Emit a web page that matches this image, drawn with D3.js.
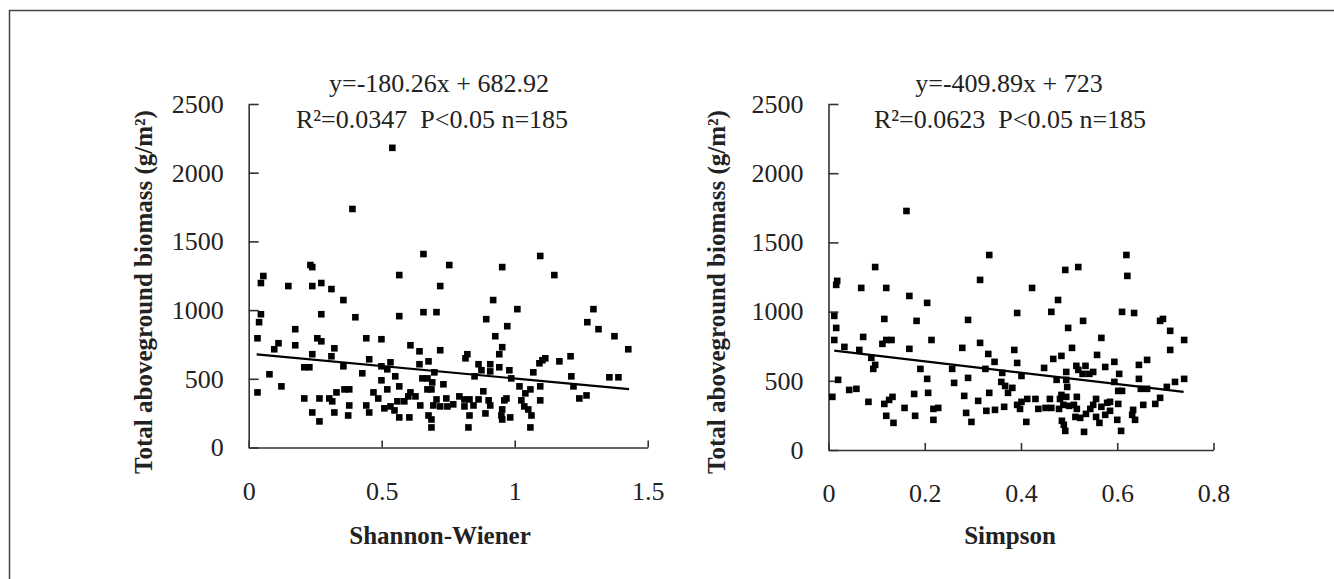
<!DOCTYPE html>
<html>
<head>
<meta charset="utf-8">
<script src="https://cdn.jsdelivr.net/npm/d3@7"></script>
<style>
body { margin: 0; background: #fff; }
</style>
</head>
<body>
<svg id="chart" width="1334" height="579"></svg>
<script>
// values
var yTicks = [0, 500, 1000, 1500, 2000, 2500];
var shannonTicks = [0, 0.5, 1, 1.5];
var simpsonTicks = [0, 0.2, 0.4, 0.6, 0.8];

var shannonX = [0.540,0.390,0.657,0.754,0.232,0.239,0.055,0.046,0.149,0.239,0.273,0.311,0.566,0.720,0.356,0.046,0.039,0.273,0.401,0.566,
    0.657,0.706,0.175,0.033,0.112,0.096,0.175,0.258,0.273,0.322,0.442,0.499,0.608,0.642,0.720,0.239,0.311,0.453,0.356,0.209,
    0.228,0.499,0.521,0.533,0.642,0.676,0.078,0.427,0.499,0.551,0.653,0.672,0.698,0.690,0.732,0.033,0.123,0.330,0.360,0.378,
    0.469,0.521,0.566,0.608,0.627,0.672,0.687,0.209,0.266,0.303,0.314,0.487,0.559,0.585,0.600,0.706,0.743,0.378,0.442,0.510,
    0.533,0.548,0.645,0.694,0.720,0.747,0.239,0.322,0.374,0.453,0.676,0.566,0.604,0.687,0.266,0.687,
    0.769,0.792,0.811,0.811,0.830,0.845,0.864,0.830,0.826,0.815,0.822,0.864,0.849,0.875,0.908,0.908,0.942,0.942,0.953,0.927,
    0.972,0.893,0.919,1.010,0.953,1.096,1.149,0.980,0.987,0.882,0.902,0.908,0.890,0.961,0.969,0.953,0.950,0.953,0.983,1.018,
    1.040,1.059,1.025,1.036,1.051,1.063,1.059,1.096,1.096,1.070,1.093,1.104,1.115,1.168,1.210,1.213,1.221,1.243,1.270,1.273,
    1.296,1.315,1.375,1.427,1.356,1.390];
var shannonY = [2181,1736,1408,1328,1328,1313,1248,1197,1175,1175,1197,1153,1255,1175,1073,970,912,970,948,956,
    985,985,861,795,759,715,744,795,773,722,795,788,744,700,708,679,664,642,591,584,
    584,591,569,620,606,627,533,540,489,518,503,503,547,474,460,401,445,401,423,423,
    401,423,445,401,372,423,423,357,357,357,336,357,336,336,372,350,357,306,306,285,
    299,270,306,306,299,299,255,255,233,255,233,219,219,204,190,146,
    314,372,350,299,350,306,350,233,146,649,679,606,518,562,606,554,584,679,730,810,
    883,934,1073,1007,1313,1394,1255,562,503,409,343,306,248,343,357,277,233,204,219,445,
    394,423,343,299,277,233,146,445,343,547,613,635,649,627,664,518,445,357,379,912,
    1007,861,810,715,511,511];

var simpsonX = [0.162,0.334,0.097,0.018,0.016,0.068,0.120,0.315,0.168,0.205,0.012,0.016,0.116,0.183,0.290,0.392,0.012,0.033,0.072,0.112,
    0.120,0.131,0.214,0.168,0.064,0.278,0.315,0.386,0.332,0.089,0.345,0.392,0.097,0.093,0.191,0.257,0.326,0.361,0.401,0.020,
    0.205,0.290,0.261,0.359,0.367,0.382,0.373,0.008,0.043,0.058,0.083,0.116,0.126,0.133,0.178,0.207,0.282,0.334,0.311,0.158,
    0.218,0.228,0.328,0.346,0.365,0.392,0.401,0.398,0.120,0.180,0.286,0.135,0.218,0.297,0.411,
    0.619,0.621,0.492,0.519,0.423,0.477,0.463,0.529,0.610,0.635,0.498,0.567,0.689,0.695,0.710,0.739,0.710,0.506,0.558,0.484,
    0.467,0.448,0.515,0.534,0.519,0.528,0.542,0.550,0.494,0.575,0.594,0.604,0.645,0.662,0.645,0.594,0.474,0.494,0.496,0.602,
    0.610,0.649,0.662,0.703,0.720,0.739,0.484,0.430,0.460,0.481,0.494,0.516,0.556,0.413,0.488,0.500,0.510,0.516,0.436,0.451,
    0.463,0.479,0.544,0.550,0.567,0.579,0.585,0.602,0.585,0.575,0.556,0.563,0.535,0.513,0.523,0.485,0.489,0.492,0.531,0.600,
    0.608,0.633,0.631,0.637,0.654,0.679,0.689];
var simpsonY = [1727,1409,1322,1222,1193,1171,1171,1229,1113,1063,969,882,947,933,940,990,795,745,817,767,
    795,795,795,731,723,738,774,723,694,666,637,629,615,586,586,586,586,557,535,507,
    514,521,485,492,463,449,413,384,434,442,348,333,362,384,405,413,391,413,355,304,
    297,304,283,290,312,326,348,297,247,247,268,196,218,203,203,
    1409,1258,1301,1322,1171,1084,998,933,998,990,882,810,933,947,861,795,723,738,687,680,
    658,593,608,608,579,550,550,564,564,600,637,550,615,651,514,492,507,507,456,427,
    427,442,442,456,492,514,398,369,369,369,384,384,369,369,326,319,326,297,297,304,
    304,297,297,326,312,341,348,333,283,254,239,196,261,239,232,211,182,138,131,218,
    138,290,254,218,326,333,377];

// fitted lines: slope, intercept and the x span drawn
var shannonFit = [-180.26, 682.92];
var shannonFitSpan = [0.03, 1.43];
var simpsonFit = [-409.89, 723];
var simpsonFitSpan = [0.012, 0.738];

var serifFont = "'Liberation Serif'";

var svg = d3.select("#chart");

// frame line top and left
svg.append("path")
    .attr("d", "M9.5,579V10.5H1334")
    .attr("fill", "none")
    .attr("stroke", "#444")
    .attr("stroke-width", 1.5);

var panels = [
    {xs: shannonX, ys: shannonY, xMax: 1.5, ticks: shannonTicks, x0: 248.7, x1: 647.7, yBottom: 447.5,
     fit: shannonFit, span: shannonFitSpan, xTitle: "Shannon-Wiener", yTitleX: 143, titleCx: 440,
     eq: "y=-180.26x + 682.92", stats: "R\u00b2=0.0347  P<0.05 n=185", eqCx: 439, statsCx: 432},
    {xs: simpsonX, ys: simpsonY, xMax: 0.8, ticks: simpsonTicks, x0: 828.5, x1: 1213.5, yBottom: 450,
     fit: simpsonFit, span: simpsonFitSpan, xTitle: "Simpson", yTitleX: 716, titleCx: 1010,
     eq: "y=-409.89x + 723", stats: "R\u00b2=0.0623  P<0.05 n=185", eqCx: 1009, statsCx: 1010}
];

panels.forEach(function(p) {
    var xLinear = d3.scaleLinear().domain([0, p.xMax]).range([p.x0, p.x1]);
    var yLinear = d3.scaleLinear().domain([0, 2500]).range([p.yBottom, 104]);

    var g = svg.append("g");

    var yAxisG = g.append("g")
        .attr("transform", "translate(" + p.x0 + ",0)")
        .call(d3.axisLeft(yLinear).tickValues(yTicks).tickFormat(d => d)
            .tickSize(-10).tickSizeOuter(0).tickPadding(25));

    var xAxisG = g.append("g")
        .attr("transform", "translate(0," + p.yBottom + ")")
        .call(d3.axisBottom(xLinear).tickValues(p.ticks).tickFormat(d => d)
            .tickSize(-7).tickSizeOuter(0).tickPadding(34));

    [yAxisG, xAxisG].forEach(function(a) {
        a.selectAll("path, line").attr("stroke", "#333").attr("stroke-width", 1.6);
        a.selectAll("text")
            .attr("fill", "#222")
            .style("font-family", serifFont)
            .style("font-size", "26px");
    });

    var pts = p.xs.map(function(v, i) { return {x: v, y: p.ys[i]}; });
    g.selectAll("rect.pt")
        .data(pts)
        .enter()
        .append("rect")
        .attr("class", "pt")
        .attr("x", d => xLinear(d.x) - 3.3)
        .attr("y", d => yLinear(d.y) - 3.3)
        .attr("width", 6.6)
        .attr("height", 6.6)
        .attr("fill", "#000");

    var fitLine = d3.line().x(d => xLinear(d)).y(d => yLinear(p.fit[0] * d + p.fit[1]));
    g.append("path")
        .datum(p.span)
        .attr("d", fitLine)
        .attr("fill", "none")
        .attr("stroke", "#000")
        .attr("stroke-width", 2.2);

    // axis titles
    g.append("text")
        .attr("text-anchor", "middle")
        .attr("x", p.titleCx)
        .attr("y", 544)
        .style("font-family", serifFont)
        .style("font-size", "25px")
        .style("font-weight", "bold")
        .attr("fill", "#222")
        .text(p.xTitle);

    g.append("text")
        .attr("text-anchor", "middle")
        .attr("transform", "translate(" + p.yTitleX + ",292) rotate(-90)")
        .attr("dy", "0.35em")
        .style("font-family", serifFont)
        .style("font-size", "25px")
        .style("font-weight", "bold")
        .attr("fill", "#222")
        .text("Total aboveground biomass (g/m\u00b2)");

    // regression text
    g.append("text")
        .attr("text-anchor", "middle")
        .attr("x", p.eqCx)
        .attr("y", 92)
        .style("font-family", serifFont)
        .style("font-size", "26px")
        .attr("fill", "#222")
        .text(p.eq);

    g.append("text")
        .attr("text-anchor", "middle")
        .attr("x", p.statsCx)
        .attr("y", 128)
        .style("font-family", serifFont)
        .style("font-size", "26px")
        .style("white-space", "pre")
        .attr("fill", "#222")
        .text(p.stats);
});
</script>
</body>
</html>
